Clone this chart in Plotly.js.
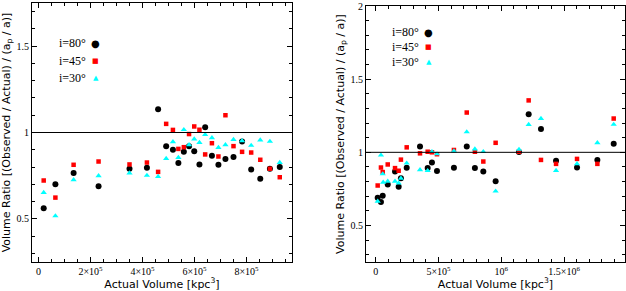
<!DOCTYPE html>
<html><head><meta charset="utf-8">
<script src="https://cdn.plot.ly/plotly-3.0.1.min.js"></script>
<style>html,body{margin:0;padding:0;background:#fff;overflow:hidden}</style>
</head><body><div id="chart" style="width:626px;height:291px"></div>
<script>
// ---- Left panel data (Actual volume in kpc^3) ----
const leftVolume = [20000, 65000, 135000, 231000, 350000, 417000, 460000, 491000, 517000, 538000, 559000, 579000, 599000, 619000, 641000, 667000, 692000, 719000, 750000, 783000, 818000, 853000, 890000, 928000];
const leftI80 = [0.562, 0.700, 0.765, 0.689, 0.790, 0.796, 1.134, 0.921, 0.900, 0.823, 0.888, 0.921, 0.892, 0.815, 1.030, 0.865, 0.813, 0.847, 0.858, 0.948, 0.785, 0.732, 0.790, 0.800];
const leftI45 = [0.722, 0.623, 0.813, 0.832, 0.815, 0.826, 0.772, 1.050, 1.015, 0.905, 0.915, 0.991, 1.035, 1.016, 0.873, 0.938, 0.861, 1.100, 0.921, 0.888, 0.884, 0.842, 0.790, 0.741];
const leftI30 = [0.652, 0.517, 0.726, 0.749, 0.765, 0.751, 0.745, 0.849, 0.946, 0.855, 1.016, 0.929, 0.962, 0.942, 0.988, 0.969, 0.913, 0.929, 0.959, 0.952, 0.925, 0.956, 0.948, 0.826];

// ---- Right panel data ----
const rightVolume = [16000, 42000, 56000, 96000, 154000, 183000, 201000, 247000, 353000, 414000, 448000, 488000, 623000, 725000, 790000, 857000, 955000, 1141000, 1218000, 1316000, 1436000, 1603000, 1765000, 1895000];
const rightI80 = [0.690, 0.660, 0.703, 0.780, 0.869, 0.764, 0.822, 0.894, 1.040, 0.892, 0.930, 0.872, 0.894, 1.040, 0.892, 0.869, 0.802, 1.002, 1.260, 1.160, 0.943, 0.896, 0.948, 1.058];
const rightI45 = [0.773, 0.896, 0.865, 0.917, 0.892, 0.874, 0.950, 1.034, 0.993, 1.004, 1.000, 0.987, 1.016, 1.272, 1.004, 0.937, 1.065, 1.004, 1.355, 0.948, 0.921, 0.955, 0.921, 1.231];
const rightVolumeI30 = [16000, 42000, 56000, 60000, 96000, 154000, 183000, 201000, 247000, 353000, 414000, 448000, 488000, 623000, 725000, 790000, 857000, 955000, 1141000, 1218000, 1316000, 1436000, 1603000, 1765000, 1895000];
const rightI30 = [0.665, 0.980, 0.852, 0.795, 0.802, 0.802, 0.790, 0.822, 0.926, 0.880, 0.874, 1.004, 0.989, 1.009, 1.139, 1.022, 1.004, 0.734, 1.020, 1.190, 1.231, 0.875, 0.921, 1.065, 1.191];

// ---- Tick labels ----
const leftXTickVals = [0, 200000, 400000, 600000, 800000];
const leftXTickText = ['0', '2×10<sup>5</sup>', '4×10<sup>5</sup>', '6×10<sup>5</sup>', '8×10<sup>5</sup>'];
const rightXTickVals = [0, 500000, 1000000, 1500000];
const rightXTickText = ['0', '5×10<sup>5</sup>', '10<sup>6</sup>', '1.5×10<sup>6</sup>'];
const leftYTickVals = [0.5, 1, 1.5];
const rightYTickVals = [0.5, 1, 1.5, 2];
const legendLabels = ['i=80°', 'i=45°', 'i=30°'];
const refRatio = 1;

const colors = ['#000000', '#ff0000', '#00ffff'];
const symbols = ['circle', 'square', 'triangle-up'];
const sizes = [6, 4.5, 5.5];

function tr(x, y, k, xa, ya) {
  return {x: x, y: y, type: 'scatter', mode: 'markers', xaxis: xa, yaxis: ya,
    marker: {color: colors[k], symbol: symbols[k], size: sizes[k], line: {width: 0}},
    showlegend: false, hoverinfo: 'skip', cliponaxis: false};
}

const data = [
  tr(leftVolume, leftI80, 0, 'x', 'y'),
  tr(leftVolume, leftI45, 1, 'x', 'y'),
  tr(leftVolume, leftI30, 2, 'x', 'y'),
  tr(rightVolume, rightI80, 0, 'x2', 'y2'),
  tr(rightVolume, rightI45, 1, 'x2', 'y2'),
  tr(rightVolumeI30, rightI30, 2, 'x2', 'y2')
];

const tickFont = {family: 'Liberation Serif', size: 10, color: '#000'};
const titleFont = {family: 'DejaVu Sans', size: 11, color: '#000'};

function xax(domain, range, tv, tt, minorD, anchor) {
  return {domain: domain, range: range, anchor: anchor, tickmode: 'array', tickvals: tv, ticktext: tt,
    ticks: 'inside', ticklen: 5, tickwidth: 1, tickcolor: '#000', mirror: 'allticks',
    showline: true, linecolor: '#000', linewidth: 1, showgrid: false, zeroline: false,
    tickfont: tickFont, ticklabeloverflow: 'allow',
    minor: {dtick: minorD, tick0: 0, ticks: 'inside', ticklen: 3, tickcolor: '#000', showgrid: false},
    title: {text: 'Actual Volume [kpc<sup>3</sup>]', font: titleFont, standoff: 2}, automargin: false};
}
function yax(domain, range, tv, anchor) {
  return {domain: domain, range: range, anchor: anchor, tickmode: 'array', tickvals: tv, ticktext: tv.map(String),
    ticks: 'inside', ticklen: 5, tickwidth: 1, tickcolor: '#000', mirror: 'allticks',
    showline: true, linecolor: '#000', linewidth: 1, showgrid: false, zeroline: false,
    tickfont: tickFont, ticklabeloverflow: 'allow',
    minor: {dtick: 0.1, tick0: 0, ticks: 'inside', ticklen: 3, tickcolor: '#000', showgrid: false},
    title: {text: 'Volume Ratio [(Observed / Actual) / (a<sub>p</sub> / a)]', font: titleFont, standoff: 3}, automargin: false};
}

const W = 626, ml = 32, mr = 1;
const pw = W - ml - mr;
const d1 = [0, 260 / pw];
const d2 = [334 / pw, 1];

const annotations = [];
function legend(xa, ya, xt, xm, ys) {
  for (let k = 0; k < 3; k++) {
    annotations.push({xref: xa + ' domain', yref: ya + ' domain', x: xt, y: ys[k], xanchor: 'right', yanchor: 'middle',
      text: legendLabels[k], showarrow: false, font: {family: 'Liberation Serif', size: 12, color: '#000'}});
    const glyph = ['●', '■', '▲'][k];
    const gs = [10, 7, 7][k];
    annotations.push({xref: xa + ' domain', yref: ya + ' domain', x: xm, y: ys[k], xanchor: 'center', yanchor: 'middle',
      text: glyph, showarrow: false, font: {family: 'DejaVu Sans', size: gs, color: colors[k]}});
  }
}
legend('x', 'y', 0.215, 0.246, [0.844, 0.776, 0.709]);
legend('x2', 'y2', 0.212, 0.243, [0.897, 0.838, 0.782]);

const layout = {
  width: 626, height: 291,
  margin: {l: ml, r: mr, t: 3, b: 29, pad: 0},
  paper_bgcolor: '#fff', plot_bgcolor: '#fff',
  showlegend: false,
  xaxis: xax(d1, [-25000, 975000], leftXTickVals, leftXTickText, 50000, 'y'),
  yaxis: yax([0, 1], [0.25, 1.75], leftYTickVals, 'x'),
  xaxis2: xax(d2, [-77000, 1985000], rightXTickVals, rightXTickText, 100000, 'y2'),
  yaxis2: yax([0, 1 - 3 / 259], [0.25, 2.0005], rightYTickVals, 'x2'),
  shapes: [
    {type: 'line', xref: 'x domain', yref: 'y', x0: 0, x1: 1, y0: refRatio, y1: refRatio, line: {color: '#000', width: 1}},
    {type: 'line', xref: 'x2 domain', yref: 'y2', x0: 0, x1: 1, y0: refRatio, y1: refRatio, line: {color: '#000', width: 1}}
  ],
  annotations: annotations
};

Plotly.newPlot('chart', data, layout, {staticPlot: true, displayModeBar: false});
</script>
</body></html>
